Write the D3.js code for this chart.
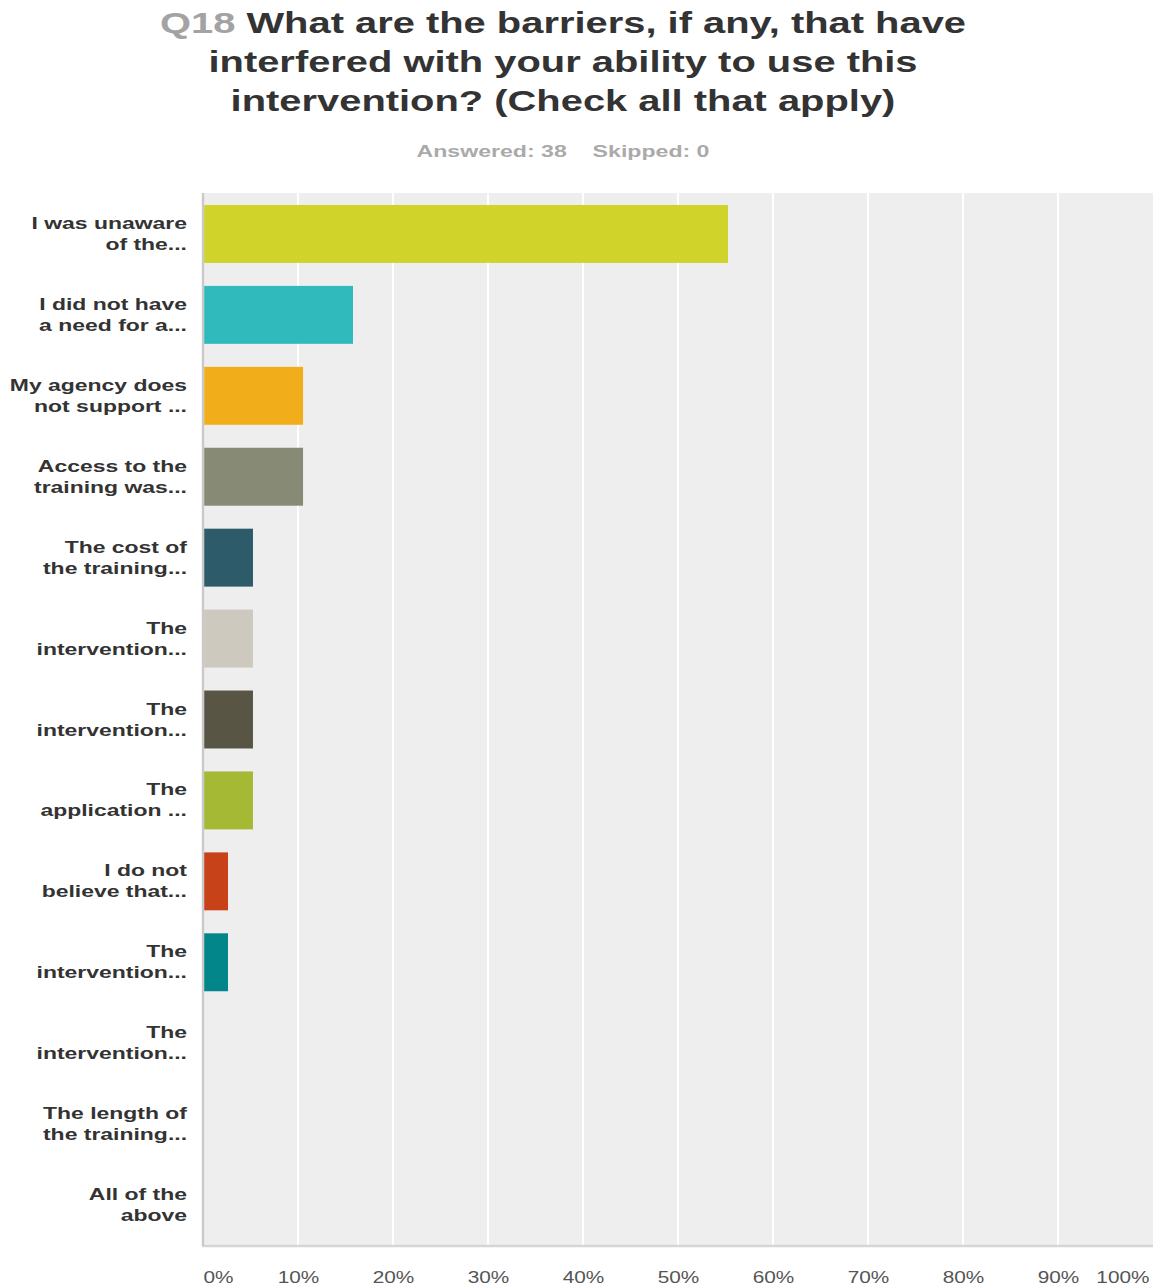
<!DOCTYPE html>
<html>
<head>
<meta charset="utf-8">
<script src="https://cdn.jsdelivr.net/npm/d3@7"></script>
<style>
  html, body { margin: 0; padding: 0; background: #ffffff; }
  svg { display: block; }
  text { font-family: "Liberation Sans", Arial, Helvetica, sans-serif; }
</style>
</head>
<body>
<svg id="chart" width="1159" height="1287"></svg>
<script>
// Answer choices (each split into the two lines that are displayed)
const categories = [
  ["I was unaware", "of the..."],
  ["I did not have", "a need for a..."],
  ["My agency does", "not support ..."],
  ["Access to the", "training was..."],
  ["The cost of", "the training..."],
  ["The", "intervention..."],
  ["The", "intervention..."],
  ["The", "application ..."],
  ["I do not", "believe that..."],
  ["The", "intervention..."],
  ["The", "intervention..."],
  ["The length of", "the training..."],
  ["All of the", "above"]
];

// Share of respondents choosing each answer (%), 38 answered
const values = [55.26, 15.79, 10.53, 10.53, 5.26, 5.26, 5.26, 5.26, 2.63, 2.63, 0, 0, 0];

const barColors = [
  "#d0d329", "#31babc", "#f2ae1a", "#878a75", "#2d5b6a",
  "#cec9be", "#585544", "#a5b935", "#c74219", "#03868a",
  "#7a4f8b", "#6b7e91", "#b3a46c"
];

const tickValues = [0, 10, 20, 30, 40, 50, 60, 70, 80, 90, 100];
const tickLabels = ["0%", "10%", "20%", "30%", "40%", "50%", "60%", "70%", "80%", "90%", "100%"];

const titleQ = "Q18";
const titleLines = [
  "What are the barriers, if any, that have",
  "interfered with your ability to use this",
  "intervention? (Check all that apply)"
];
const answered = 38;
const skipped = 0;

// ---- layout ----
const SX = 1.35;             // horizontal stretch applied to text
const plot = { left: 203, right: 1153, top: 193, bottom: 1246 };
const centerX = 563;

const svg = d3.select("#chart");

const x = d3.scaleLinear().domain([0, 100]).range([plot.left, plot.right]);
const y = d3.scaleBand()
  .domain(d3.range(categories.length))
  .range([plot.top, plot.bottom])
  .paddingInner(0.284)
  .paddingOuter(0.148);

// ---- title ----
const title = svg.append("g");
titleLines.forEach((line, i) => {
  const t = title.append("text")
    .attr("transform", `translate(${centerX},${33 + i * 39}) scale(1.33,1)`)
    .attr("text-anchor", "middle")
    .attr("font-size", 30)
    .attr("font-weight", "bold")
    .attr("fill", "#333333");
  if (i === 0) {
    t.append("tspan").attr("fill", "#a3a3a3").text(titleQ + " ");
  }
  t.append("tspan").text(line);
});

// ---- answered / skipped ----
const sub = svg.append("text")
  .attr("transform", `translate(${centerX},157) scale(1.36,1)`)
  .attr("text-anchor", "middle")
  .attr("font-size", 17)
  .attr("font-weight", "bold")
  .attr("fill", "#aaaaaa");
sub.append("tspan").text(`Answered: ${answered}`);
sub.append("tspan").attr("dx", 19).text(`Skipped: ${skipped}`);

// ---- plot background and grid ----
svg.append("rect")
  .attr("x", plot.left).attr("y", plot.top)
  .attr("width", plot.right - plot.left)
  .attr("height", plot.bottom - plot.top)
  .attr("fill", "#eeeeee");

svg.append("g")
  .selectAll("line")
  .data(tickValues.filter(v => v > 0 && v < 100))
  .join("line")
  .attr("x1", d => x(d)).attr("x2", d => x(d))
  .attr("y1", plot.top).attr("y2", plot.bottom)
  .attr("stroke", "#ffffff")
  .attr("stroke-width", 2);

// ---- bars ----
svg.append("g")
  .selectAll("rect")
  .data(values)
  .join("rect")
  .attr("x", x(0) + 1)
  .attr("y", (d, i) => y(i))
  .attr("width", d => Math.max(0, x(d) - x(0) - 1))
  .attr("height", y.bandwidth())
  .attr("fill", (d, i) => barColors[i]);

// ---- axis lines ----
svg.append("path")
  .attr("d", `M${plot.left},${plot.top} V${plot.bottom} H${plot.right}`)
  .attr("fill", "none")
  .attr("stroke", "#d6d6d6")
  .attr("stroke-width", 2.5)
  .attr("stroke-linejoin", "round");
svg.append("line")
  .attr("x1", plot.left).attr("x2", plot.left)
  .attr("y1", plot.top).attr("y2", plot.bottom)
  .attr("stroke", "#c9c9c9")
  .attr("stroke-width", 2);

// ---- category labels ----
const labels = svg.append("g");
categories.forEach((lines, i) => {
  const cy = y(i) + y.bandwidth() / 2;
  lines.forEach((line, j) => {
    labels.append("text")
      .attr("transform", `translate(187,${cy - 5 + j * 21}) scale(${SX},1)`)
      .attr("text-anchor", "end")
      .attr("font-size", 17)
      .attr("font-weight", "bold")
      .attr("fill", "#333333")
      .text(line);
  });
});

// ---- x axis ----
const xAxis = d3.axisBottom(x)
  .tickValues(tickValues)
  .tickFormat((d, i) => tickLabels[i])
  .tickSize(0);

const ax = svg.append("g")
  .attr("transform", `translate(0,${plot.bottom})`)
  .call(xAxis);
ax.select(".domain").remove();
ax.selectAll(".tick text")
  .attr("y", 0)
  .attr("dy", 0)
  .attr("font-family", "'Liberation Sans', Arial, sans-serif")
  .attr("font-size", 16)
  .attr("fill", "#555555")
  .attr("text-anchor", (d, i) => i === 0 ? "start" : (i === tickValues.length - 1 ? "end" : "middle"))
  .attr("transform", (d, i) => `translate(${i === tickValues.length - 1 ? -4 : 0},37) scale(1.3,1)`);
</script>
</body>
</html>
